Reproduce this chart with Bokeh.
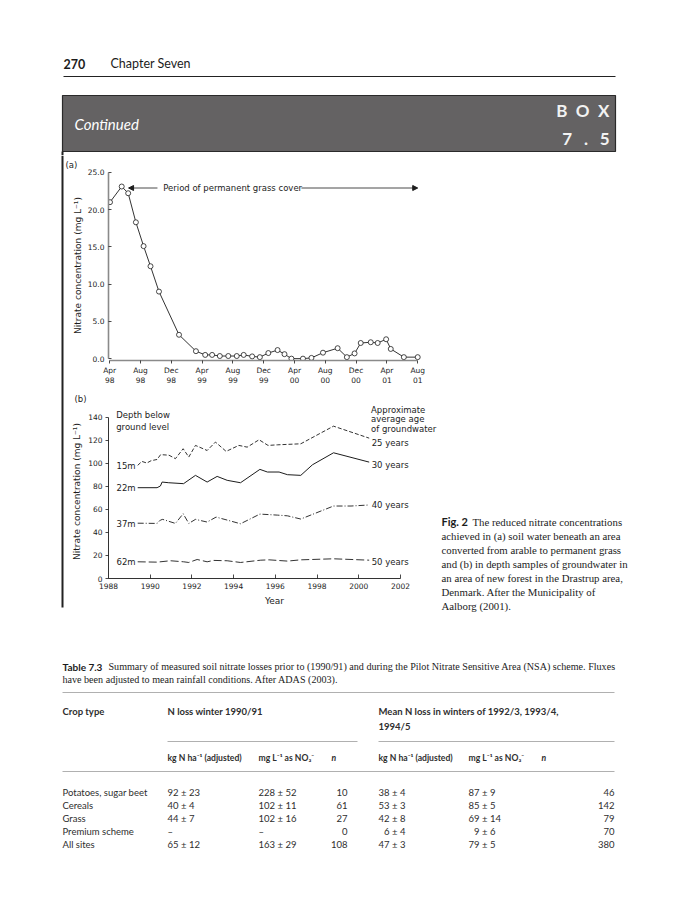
from bokeh.plotting import figure
from bokeh.layouts import column, row
from bokeh.models import Range1d, Label, FixedTicker, Arrow, NormalHead
from bokeh.embed import file_html
from bokeh.resources import INLINE
from bokeh.core.properties import value

# ---------------- data ----------------
# (a) soil-water nitrate, x = months after April 1998
a_months = [0.04, 1.56, 2.4, 3.4, 4.4, 5.3, 6.4, 9.0, 11.2, 12.4, 13.3, 14.3, 15.4, 16.5,
            17.4, 18.5, 19.5, 20.6, 21.8, 22.7, 23.6, 25.1, 26.2, 27.7, 29.6, 30.8, 31.8,
            32.6, 33.9, 34.8, 35.9, 36.5, 38.2, 40.0]
a_nitrate = [21.0, 23.1, 22.2, 18.3, 15.1, 12.4, 9.0, 3.2, 1.0, 0.5, 0.5, 0.35, 0.35, 0.35,
             0.5, 0.3, 0.2, 0.75, 1.15, 0.6, 0.0, 0.0, 0.1, 0.8, 1.4, 0.2, 0.7,
             2.1, 2.2, 2.1, 2.6, 1.3, 0.2, 0.2]
a_tick_months = [0, 4, 8, 12, 16, 20, 24, 28, 32, 36, 40]
a_tick_labels = ["Apr\n98", "Aug\n98", "Dec\n98", "Apr\n99", "Aug\n99", "Dec\n99",
                 "Apr\n00", "Aug\n00", "Dec\n00", "Apr\n01", "Aug\n01"]
a_y_ticks = [0, 5, 10, 15, 20, 25]
a_y_labels = ["0.0", "5.0", "10.0", "15.0", "20.0", "25.0"]

# (b) groundwater nitrate by depth
b15_year = [1989.40, 1989.60, 1989.84, 1990.04, 1990.33, 1990.50, 1990.90, 1991.21, 1991.58,
            1991.85, 1992.17, 1992.73, 1993.13, 1993.64, 1994.25, 1994.65, 1995.22, 1995.65,
            1996.10, 1997.22, 1998.79, 2000.50]
b15_val = [98.2, 101.6, 100.2, 102.2, 103.3, 107.5, 107.0, 104.0, 112.6, 105.4, 115.5, 111.1,
           118.4, 110.3, 115.5, 114.0, 120.4, 115.5, 116.0, 116.9, 132.2, 121.8]
b22_year = [1989.40, 1990.33, 1990.49, 1990.57, 1990.89, 1991.60, 1992.17, 1992.73, 1993.21,
            1993.69, 1994.33, 1995.26, 1995.62, 1996.18, 1996.58, 1997.22, 1997.78, 1998.79,
            2000.50]
b22_val = [78.8, 78.8, 80.3, 83.7, 83.1, 82.3, 89.5, 83.7, 88.6, 85.2, 83.1, 94.7, 92.4, 92.4,
           90.1, 89.5, 98.7, 109.1, 101.0]
b37_year = [1989.40, 1990.33, 1990.49, 1990.60, 1991.21, 1991.58, 1991.85, 1992.17, 1992.73,
            1993.16, 1993.69, 1994.33, 1995.26, 1996.10, 1996.58, 1997.22, 1997.86, 1998.79,
            1999.63, 2000.50]
b37_val = [48.0, 47.8, 50.7, 51.3, 47.8, 56.2, 47.8, 51.3, 49.0, 53.3, 50.7, 47.5, 55.9, 55.0,
           54.4, 51.6, 56.2, 62.9, 62.9, 63.8]
b62_year = [1989.40, 1990.33, 1990.97, 1991.60, 1991.85, 1992.25, 1992.73, 1993.05, 1993.69,
            1994.33, 1995.30, 1995.70, 1996.58, 1997.22, 1998.79, 2000.50]
b62_val = [14.5, 14.2, 15.4, 14.5, 13.9, 16.5, 14.5, 15.7, 15.4, 13.9, 15.9, 16.2, 15.1, 16.2,
           17.1, 15.9]
b_depths = ["15m", "22m", "37m", "62m"]
b_ages = ["25 years", "30 years", "40 years", "50 years"]
b_age_y = [117.5, 98.2, 63.5, 14.4]
b_x_ticks = [1988, 1990, 1992, 1994, 1996, 1998, 2000, 2002]
b_y_ticks = [0, 20, 40, 60, 80, 100, 120, 140]

# Table 7.3
t_crops = ["Potatoes, sugar beet", "Cereals", "Grass", "Premium scheme", "All sites"]
t_kg1 = ["92 ± 23", "40 ± 4", "44 ± 7", "–", "65 ± 12"]
t_mg1 = ["228 ± 52", "102 ± 11", "102 ± 16", "–", "163 ± 29"]
t_n1 = ["10", "61", "27", "0", "108"]
t_kg2 = ["38 ± 4", "53 ± 3", "42 ± 8", "\u20076 ± 4", "47 ± 3"]
t_mg2 = ["87 ± 9", "85 ± 5", "69 ± 14", "\u20079 ± 6", "79 ± 5"]
t_n2 = ["46", "142", "79", "70", "380"]

caption_lines = ["The reduced nitrate concentrations",
                 "achieved in (a) soil water beneath an area",
                 "converted from arable to permanent grass",
                 "and (b) in depth samples of groundwater in",
                 "an area of new forest in the Drastrup area,",
                 "Denmark. After the Municipality of",
                 "Aalborg (2001)."]

# ---------------- styling helpers ----------------
CH = "DejaVu Sans"
SERIF = "Liberation Serif"
BS = "Lato"
INK = "#1c1c1c"


def page_fig(x0, x1, y0, y1):
    p = figure(width=x1 - x0, height=y1 - y0,
               x_range=Range1d(x0, x1), y_range=Range1d(y1, y0),
               x_axis_location=None, y_axis_location=None,
               output_backend="svg", toolbar_location=None, min_border=0)
    p.grid.visible = False
    p.outline_line_color = None
    return p


def put_text(p, xs, ys, texts, font, size, color=INK, style="normal",
             align="left", baseline="middle"):
    p.text(x=xs, y=ys, text=texts, text_font=value(font), text_font_size=value(size),
           text_font_style=style, text_color=color, text_align=align,
           text_baseline=baseline)


def style_axis(ax, tick_size="7.5px", label_size="9px"):
    ax.major_label_text_font = CH
    ax.major_label_text_font_size = tick_size
    ax.major_label_text_color = INK
    ax.axis_label_text_font = CH
    ax.axis_label_text_font_size = label_size
    ax.axis_label_text_font_style = "normal"
    ax.axis_label_text_color = INK
    ax.minor_tick_line_color = None
    ax.major_tick_line_color = INK
    ax.major_tick_line_width = 0.8


def add_label(p, x, y, text, align="left", size="8.5px"):
    p.add_layout(Label(x=x, y=y, text=text, text_font=CH, text_font_size=size,
                       text_color=INK, text_align=align, text_baseline="middle"))


def panel_title(p, text, offset):
    p.title.text = text
    p.title.align = "left"
    p.title.offset = offset
    p.title.text_font = CH
    p.title.text_font_size = "8.5px"
    p.title.text_font_style = "normal"
    p.title.text_color = INK
    p.title.standoff = 2


# ---------------- top band: running head + banner ----------------
top = page_fig(0, 683, 0, 155)
put_text(top, [63], [63], ["270"], BS, "12.5px", style="bold")
put_text(top, [110], [63], ["Chapter Seven"], BS, "12.5px")
top.segment(x0=[63], y0=[76], x1=[615], y1=[76], line_color="#222", line_width=1)
top.quad(left=[62], right=[615], top=[95], bottom=[151], fill_color="#646263",
         line_color="#2a2a2a", line_width=1.2)
put_text(top, [74], [123], ["Continued"], BS, "15px", color="#ffffff", style="italic")
put_text(top, [609, 609], [110, 138],
         ["B\u2002O\u2002X", "7\u2002\u2009\u200a.\u2002\u2009\u200a5"], BS, "17px",
         color="#f2f2f2", style="bold", align="right")
top.quad(left=[61], right=[63], top=[151], bottom=[155], fill_color="#222", line_color=None)

# ---------------- left strip with box border ----------------
strip = page_fig(0, 64, 155, 612)
strip.quad(left=[61], right=[63], top=[155], bottom=[607], fill_color="#222", line_color=None)

# ---------------- chart (a) ----------------
pa = figure(width=376, height=233, x_range=Range1d(-0.156, 42.96), y_range=Range1d(-0.25, 25.25),
            output_backend="svg", toolbar_location=None,
            min_border_left=44, min_border_right=0, min_border_top=15, min_border_bottom=27)
pa.grid.visible = False
pa.outline_line_color = None
style_axis(pa.xaxis[0])
style_axis(pa.yaxis[0])
pa.xaxis.ticker = FixedTicker(ticks=a_tick_months)
pa.xaxis.major_label_overrides = dict(zip(a_tick_months, a_tick_labels))
pa.xaxis.bounds = (0, 40)
pa.xaxis.major_tick_in = 0
pa.xaxis.major_tick_out = 3
pa.xaxis.major_label_standoff = 2
pa.yaxis.ticker = FixedTicker(ticks=a_y_ticks)
pa.yaxis.major_label_overrides = dict(zip(a_y_ticks, a_y_labels))
pa.yaxis.bounds = (0, 25)
pa.yaxis.major_tick_in = 3
pa.yaxis.major_tick_out = 0
pa.yaxis.major_label_standoff = 4
pa.yaxis.axis_label = "Nitrate concentration (mg L⁻¹)"
pa.yaxis.axis_label_standoff = 2
pa.axis.axis_line_color = "#8a8a8a"
pa.axis.axis_line_width = 1.6
panel_title(pa, "(a)", -43)
pa.line(a_months, a_nitrate, line_color=INK, line_width=0.9)
pa.scatter(a_months, a_nitrate, marker="circle", size=5, fill_color="white",
           line_color=INK, line_width=0.8)
pa.add_layout(Arrow(end=NormalHead(size=5, fill_color=INK, line_color=INK),
                    x_start=6.2, y_start=22.9, x_end=2.45, y_end=22.9,
                    line_color=INK, line_width=0.8))
pa.add_layout(Arrow(end=NormalHead(size=5, fill_color=INK, line_color=INK),
                    x_start=24.9, y_start=22.9, x_end=40.0, y_end=22.9,
                    line_color=INK, line_width=0.8))
add_label(pa, 6.95, 22.9, "Period of permanent grass cover")

# ---------------- chart (b) ----------------
pb = figure(width=376, height=224, x_range=Range1d(1988, 2003.92), y_range=Range1d(0, 151),
            output_backend="svg", toolbar_location=None,
            min_border_left=44, min_border_right=0, min_border_top=16, min_border_bottom=34)
pb.grid.visible = False
pb.outline_line_color = None
style_axis(pb.xaxis[0])
style_axis(pb.yaxis[0])
pb.xaxis.ticker = FixedTicker(ticks=b_x_ticks)
pb.xaxis.bounds = (1988, 2002)
pb.xaxis.major_tick_in = 4
pb.xaxis.major_tick_out = 0
pb.xaxis.major_label_standoff = 4
pb.xaxis.axis_label = "Year"
pb.xaxis.axis_label_standoff = 4
pb.yaxis.ticker = FixedTicker(ticks=b_y_ticks)
pb.yaxis.bounds = (0, 140)
pb.yaxis.major_tick_in = 0
pb.yaxis.major_tick_out = 3
pb.yaxis.major_label_standoff = 3
pb.yaxis.axis_label = "Nitrate concentration (mg L⁻¹)"
pb.yaxis.axis_label_standoff = 3
pb.axis.axis_line_color = "#333"
pb.axis.axis_line_width = 1
panel_title(pb, "(b)", -34)

pb.line(b15_year, b15_val, line_color=INK, line_width=0.9, line_dash="4 2")
pb.line(b22_year, b22_val, line_color=INK, line_width=1.0)
pb.line(b37_year, b37_val, line_color=INK, line_width=0.9, line_dash="6 2 1 2")
pb.line(b62_year, b62_val, line_color=INK, line_width=0.9, line_dash="8 3")

for txt, yv in zip(b_depths, [b15_val[0], b22_val[0], b37_val[0], b62_val[0]]):
    add_label(pb, 1989.3, yv - 0.5, txt, align="right")
for txt, yv in zip(b_ages, b_age_y):
    add_label(pb, 2000.62, yv, txt)
add_label(pb, 1988.37, 141.5, "Depth below")
add_label(pb, 1988.37, 131.9, "ground level")
add_label(pb, 2000.59, 145.8, "Approximate")
add_label(pb, 2000.59, 138.0, "average age")
add_label(pb, 2000.59, 129.9, "of groundwater")

# ---------------- caption beside the charts ----------------
cap = page_fig(440, 683, 155, 612)
cap_y = [521 + 14 * i for i in range(len(caption_lines))]
put_text(cap, [441], [cap_y[0]], ["Fig. 2"], BS, "11px", style="bold")
put_text(cap, [472] + [441] * (len(caption_lines) - 1), cap_y, caption_lines, SERIF, "10.8px")

# ---------------- bottom band: table ----------------
bot = page_fig(0, 683, 612, 892)
put_text(bot, [62], [666], ["Table 7.3"], BS, "10px", style="bold")
put_text(bot, [108, 62], [666, 679],
         ["Summary of measured soil nitrate losses prior to (1990/91) and during the Pilot "
          "Nitrate Sensitive Area (NSA) scheme. Fluxes",
          "have been adjusted to mean rainfall conditions. After ADAS (2003)."],
         SERIF, "10.1px")
bot.segment(x0=[62, 167, 378, 62], y0=[692, 741, 741, 771],
            x1=[614, 357, 614, 614], y1=[692, 741, 741, 771],
            line_color="#b0b0b0", line_width=1)
TC = "#2e2e2e"
FS = "9.5px"
FH = "8.6px"
put_text(bot, [62, 167, 378, 378], [711, 711, 711, 726],
         ["Crop type", "N loss winter 1990/91", "Mean N loss in winters of 1992/3, 1993/4,",
          "1994/5"], BS, FS, color=TC, style="bold")
put_text(bot, [167, 258, 378, 468], [757] * 4,
         ["kg N ha⁻¹ (adjusted)", "mg L⁻¹ as NO₃⁻", "kg N ha⁻¹ (adjusted)", "mg L⁻¹ as NO₃⁻"],
         BS, FH, color=TC, style="bold")
put_text(bot, [331, 541], [757, 757], ["n", "n"], BS, FH, color=TC, style="bold italic")
row_y = [792 + 13 * i for i in range(len(t_crops))]
put_text(bot, [62] * 5, row_y, t_crops, BS, FS, color=TC)
put_text(bot, [167] * 5, row_y, t_kg1, BS, FS, color=TC)
put_text(bot, [258] * 5, row_y, t_mg1, BS, FS, color=TC)
put_text(bot, [347] * 5, row_y, t_n1, BS, FS, color=TC, align="right")
put_text(bot, [378] * 5, row_y, t_kg2, BS, FS, color=TC)
put_text(bot, [468] * 5, row_y, t_mg2, BS, FS, color=TC)
put_text(bot, [614] * 5, row_y, t_n2, BS, FS, color=TC, align="right")

# ---------------- layout ----------------
page = column(top, row(strip, column(pa, pb), cap), bot)
open("out.html", "w").write(file_html(page, INLINE))
